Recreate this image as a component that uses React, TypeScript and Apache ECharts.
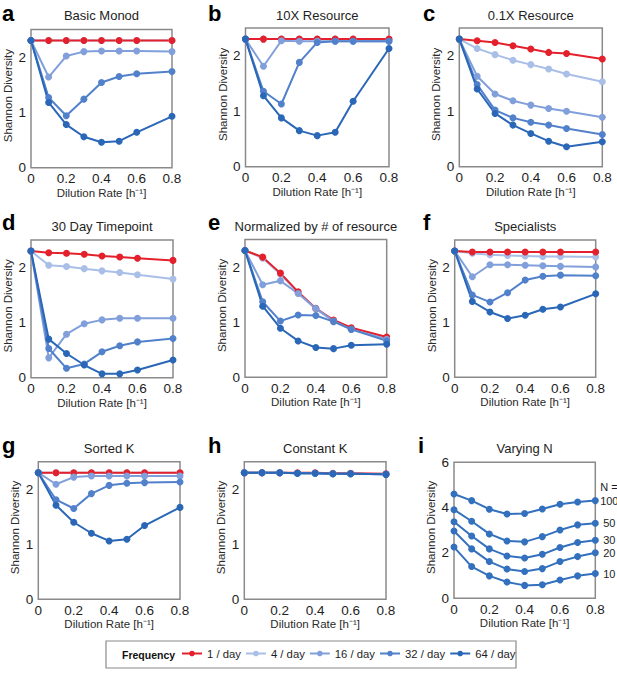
import React, { useEffect, useRef } from 'react';
import * as echarts from 'echarts';

// ---------- data ----------
const dilution = [0, 0.1, 0.2, 0.3, 0.4, 0.5, 0.6, 0.8];
const dilutionFull = [0, 0.1, 0.2, 0.3, 0.4, 0.5, 0.6, 0.7, 0.8];
const yTicksSmall = [0, 1, 2];
const yTicksLarge = [0, 2, 4, 6];

const freqNames = ['1 / day', '4 / day', '16 / day', '32 / day', '64 / day'];
const freqColors = ['#e3202b', '#a9bfe7', '#809fdb', '#5281cc', '#2a67b7'];

// rows: 1/day, 4/day, 16/day, 32/day, 64/day
const basicMonod = [
  [2.3, 2.3, 2.3, 2.3, 2.3, 2.3, 2.3, 2.3],
  [2.3, 2.3, 2.3, 2.3, 2.3, 2.3, 2.3, 2.3],
  [2.3, 1.64, 2.02, 2.1, 2.11, 2.11, 2.11, 2.1],
  [2.3, 1.27, 0.94, 1.24, 1.54, 1.65, 1.7, 1.74],
  [2.3, 1.18, 0.78, 0.56, 0.46, 0.48, 0.64, 0.93],
];
const tenXResource = [
  [2.3, 2.3, 2.3, 2.3, 2.3, 2.3, 2.3, 2.3],
  [2.3, 2.3, 2.3, 2.3, 2.3, 2.3, 2.3, 2.3],
  [2.3, 1.81, 2.27, 2.26, 2.26, 2.26, 2.26, 2.26],
  [2.3, 1.36, 1.13, 1.88, 2.24, 2.26, 2.26, 2.26],
  [2.3, 1.28, 0.88, 0.65, 0.56, 0.62, 1.18, 2.13],
];
const pointOneXResource = [
  [2.3, 2.27, 2.24, 2.18, 2.12, 2.06, 2.04, 1.94],
  [2.3, 2.13, 2.02, 1.92, 1.84, 1.76, 1.67, 1.53],
  [2.3, 1.63, 1.31, 1.19, 1.11, 1.05, 1.0, 0.89],
  [2.3, 1.48, 1.02, 0.88, 0.8, 0.75, 0.69, 0.58],
  [2.3, 1.4, 0.96, 0.75, 0.6, 0.46, 0.36, 0.45],
];
const thirtyDay = [
  [2.3, 2.27, 2.26, 2.24, 2.21, 2.19, 2.17, 2.13],
  [2.3, 2.04, 2.02, 1.98, 1.94, 1.91, 1.87, 1.79],
  [2.3, 0.36, 0.79, 0.98, 1.05, 1.08, 1.08, 1.08],
  [2.3, 0.53, 0.17, 0.25, 0.47, 0.58, 0.65, 0.71],
  [2.3, 0.7, 0.44, 0.23, 0.07, 0.07, 0.14, 0.32],
];
const normalized = [
  [2.3, 2.18, 1.89, 1.55, 1.25, 1.04, 0.9, 0.73],
  [2.3, 2.16, 1.87, 1.53, 1.24, 1.02, 0.88, 0.7],
  [2.3, 1.68, 1.75, 1.52, 1.25, 1.02, 0.87, 0.69],
  [2.3, 1.37, 1.02, 1.13, 1.12, 1.01, 0.87, 0.66],
  [2.3, 1.29, 0.89, 0.66, 0.54, 0.52, 0.58, 0.6],
];
const specialists = [
  [2.3, 2.28, 2.28, 2.28, 2.28, 2.28, 2.28, 2.28],
  [2.3, 2.26, 2.23, 2.22, 2.21, 2.2, 2.2, 2.19],
  [2.3, 1.83, 2.05, 2.05, 2.04, 2.03, 2.02, 2.01],
  [2.3, 1.5, 1.37, 1.54, 1.77, 1.84, 1.86, 1.85],
  [2.3, 1.38, 1.19, 1.07, 1.13, 1.24, 1.28, 1.52],
];
const sortedK = [
  [2.3, 2.3, 2.3, 2.3, 2.3, 2.3, 2.3, 2.3],
  [2.3, 2.3, 2.3, 2.3, 2.3, 2.3, 2.3, 2.3],
  [2.3, 2.09, 2.22, 2.24, 2.24, 2.24, 2.24, 2.24],
  [2.3, 1.81, 1.65, 1.92, 2.07, 2.11, 2.12, 2.13],
  [2.3, 1.71, 1.4, 1.2, 1.06, 1.09, 1.34, 1.67],
];
const constantK = [
  [2.3, 2.3, 2.3, 2.3, 2.3, 2.29, 2.29, 2.28],
  [2.3, 2.3, 2.3, 2.29, 2.29, 2.28, 2.28, 2.27],
  [2.3, 2.3, 2.3, 2.29, 2.29, 2.28, 2.28, 2.27],
  [2.3, 2.3, 2.3, 2.29, 2.29, 2.28, 2.28, 2.27],
  [2.3, 2.3, 2.3, 2.29, 2.29, 2.28, 2.28, 2.27],
];

const nLabels = ['100', '50', '30', '20', '10'];
const varyingN = [
  [4.6, 4.31, 3.93, 3.72, 3.74, 3.94, 4.15, 4.25, 4.31],
  [3.91, 3.4, 2.84, 2.53, 2.49, 2.72, 3.01, 3.24, 3.31],
  [3.38, 2.75, 2.18, 1.87, 1.78, 1.94, 2.24, 2.46, 2.56],
  [2.97, 2.18, 1.62, 1.29, 1.18, 1.31, 1.62, 1.84, 2.01],
  [2.26, 1.4, 0.99, 0.72, 0.57, 0.6, 0.81, 0.99, 1.09],
];

// ---------- layout ----------
const FONT = 'Liberation Sans, Arial, Helvetica, sans-serif';
const TEXT = '#1e1e1e';
const NAME = '#2a2a2a';
const FRAME = '#8a8a8a';

const panels = [
  { letter: 'a', title: 'Basic Monod', data: basicMonod, g: [31, 29.5, 141, 138.2], lx: 2, row: 0 },
  { letter: 'b', title: '10X Resource', data: tenXResource, g: [245.5, 28, 143.5, 138.7], lx: 208, row: 0 },
  { letter: 'c', title: '0.1X Resource', data: pointOneXResource, g: [459.3, 28, 143, 138.7], lx: 423, row: 0 },
  { letter: 'd', title: '30 Day Timepoint', data: thirtyDay, g: [31, 240, 142, 137.7], lx: 2, row: 1 },
  { letter: 'e', title: 'Normalized by # of resource', data: normalized, g: [245, 239.5, 141.7, 137.8], lx: 208, row: 1 },
  { letter: 'f', title: 'Specialists', data: specialists, g: [454.7, 240, 141, 137.3], lx: 423, row: 1 },
  { letter: 'g', title: 'Sorted K', data: sortedK, g: [38.3, 461.7, 141.7, 137.6], lx: 2, row: 2 },
  { letter: 'h', title: 'Constant K', data: constantK, g: [244.3, 461.7, 141.7, 137.6], lx: 208, row: 2 },
  { letter: 'i', title: 'Varying N', data: null, g: [454, 462.3, 141.3, 136], lx: 418, row: 2 },
];
const rowTitleY = [15, 226.7, 448.3];
const rowLetterY = [13.4, 222.4, 445];
const drawOrder = [1, 0, 2, 3, 4];

function buildOption() {
  const grid: any[] = [];
  const xAxis: any[] = [];
  const yAxis: any[] = [];
  const series: any[] = [];
  const graphic: any[] = [];

  panels.forEach((p, k) => {
    const [left, top, width, height] = p.g;
    grid.push({ left, top, width, height, show: true, borderColor: FRAME, borderWidth: 1.5, containLabel: false });
    xAxis.push({
      type: 'value', gridIndex: k, min: 0, max: 0.8, interval: 0.2,
      axisLine: { show: false }, axisTick: { show: false }, splitLine: { show: false },
      axisLabel: { fontSize: 13.5, color: TEXT, margin: 4, fontFamily: FONT, showMaxLabel: true, showMinLabel: true },
      name: 'Dilution Rate [h\u207B\u00B9]', nameLocation: 'middle', nameGap: 19,
      nameTextStyle: { fontSize: 11.5, color: NAME, fontFamily: FONT, fontWeight: 'normal' },
    });
    const isN = p.data === null;
    const ticks = isN ? yTicksLarge : yTicksSmall;
    yAxis.push({
      type: 'value', gridIndex: k, min: 0, max: isN ? 6 : 2.5, interval: isN ? 2 : 1,
      axisLine: { show: false }, axisTick: { show: false }, splitLine: { show: false },
      axisLabel: {
        fontSize: 13.5, color: TEXT, margin: 5, fontFamily: FONT,
        formatter: (v: number) => (ticks.indexOf(v) >= 0 ? String(v) : ''),
      },
      name: 'Shannon Diversity', nameLocation: 'middle', nameGap: 17,
      nameTextStyle: { fontSize: 11.5, color: NAME, fontFamily: FONT, fontWeight: 'normal', padding: [0, 0, 0, 6] },
    });

    if (!isN) {
      drawOrder.forEach((j) => {
        series.push({
          type: 'line', name: freqNames[j], xAxisIndex: k, yAxisIndex: k,
          data: dilution.map((x, i) => [x, (p.data as number[][])[j][i]]),
          color: freqColors[j], symbol: 'circle', symbolSize: 7, clip: false,
          lineStyle: { width: 2, color: freqColors[j] }, itemStyle: { color: freqColors[j] },
        });
      });
    } else {
      varyingN.forEach((vals, j) => {
        series.push({
          type: 'line', name: 'N = ' + nLabels[j], xAxisIndex: k, yAxisIndex: k,
          data: dilutionFull.map((x, i) => [x, vals[i]]),
          color: '#3370bd', symbol: 'circle', symbolSize: 7, clip: false,
          lineStyle: { width: 2, color: '#3370bd' }, itemStyle: { color: '#3370bd' },
          endLabel: {
            show: true, formatter: () => nLabels[j], fontSize: 11, color: TEXT,
            fontFamily: FONT, align: 'center', distance: 14,
          },
        });
      });
    }

    graphic.push({
      type: 'text', x: p.lx, y: rowLetterY[p.row],
      style: { text: p.letter, fontSize: 22, fontWeight: 'bold', fill: '#000', fontFamily: FONT, verticalAlign: 'middle', align: 'left' },
    });
    graphic.push({
      type: 'text', x: left + width / 2, y: rowTitleY[p.row],
      style: { text: p.title, fontSize: 13, fill: TEXT, fontFamily: FONT, verticalAlign: 'middle', align: 'center' },
    });
  });

  graphic.push({
    type: 'text', x: 609, y: 487,
    style: { text: 'N =', fontSize: 11, fill: TEXT, fontFamily: FONT, verticalAlign: 'middle', align: 'center' },
  });
  graphic.push({
    type: 'rect', shape: { x: 106, y: 641, width: 410, height: 27 },
    style: { fill: 'none', stroke: FRAME, lineWidth: 1.2 },
  });
  graphic.push({
    type: 'text', x: 122, y: 655,
    style: { text: 'Frequency', fontSize: 10.5, fontWeight: 'bold', fill: '#111', fontFamily: FONT, verticalAlign: 'middle', align: 'left' },
  });

  return {
    animation: false,
    backgroundColor: '#ffffff',
    textStyle: { fontFamily: FONT },
    grid, xAxis, yAxis, series, graphic,
    legend: {
      data: freqNames, left: 181, top: 648, padding: 0,
      itemWidth: 20, itemHeight: 7, itemGap: 4,
      textStyle: { fontSize: 11.3, color: TEXT, fontFamily: FONT },
      selectedMode: false,
    },
  };
}

export default function App() {
  const ref = useRef<HTMLDivElement>(null);
  useEffect(() => {
    document.body.style.margin = '0';
    const chart = echarts.init(ref.current as HTMLDivElement, null, { renderer: 'svg' });
    chart.setOption(buildOption() as any);
    return () => chart.dispose();
  }, []);
  return <div ref={ref} style={{ width: 617, height: 673 }} />;
}
